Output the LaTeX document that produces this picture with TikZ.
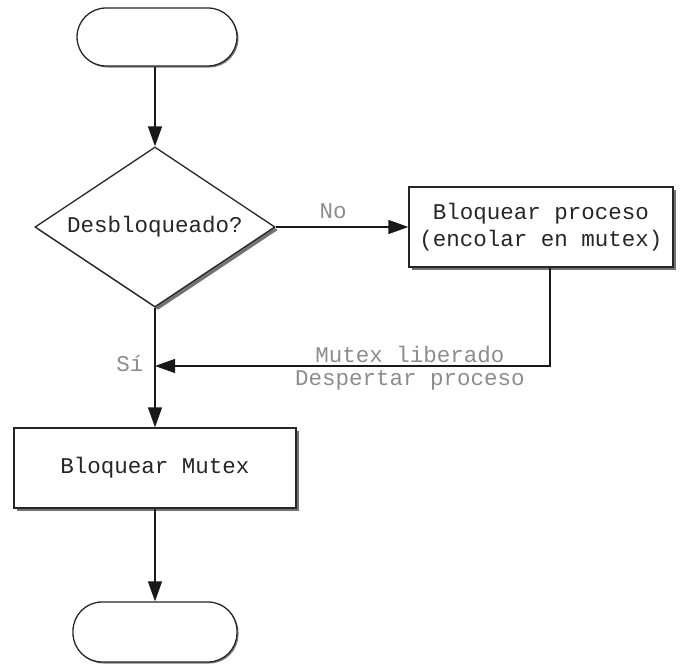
\documentclass[tikz,border=0pt]{standalone}
\usepackage{fontspec}
\newfontfamily\mono{Liberation Mono}
\usetikzlibrary{arrows.meta,shapes.geometric,shadows}
\begin{document}
\begin{tikzpicture}[x=1pt,y=-1pt,
  every node/.style={font=\mono\fontsize{22.5}{27}\selectfont},
  shade3/.style={drop shadow={shadow xshift=3pt,shadow yshift=-3pt,fill=black!55,opacity=1}},
  terminal/.style={draw=black!85,line width=1.3pt,fill=white,rectangle,rounded corners=29pt,
    minimum width=160pt,minimum height=58pt,inner sep=0pt,
    drop shadow={shadow xshift=1.5pt,shadow yshift=-1.5pt,fill=black!50,opacity=1}},
  procbox/.style={draw=black!85,line width=1.3pt,fill=white,rectangle,inner sep=0pt,
    text=black!85,align=center,shade3},
  decision/.style={draw=black!85,line width=1.3pt,fill=white,diamond,shape aspect=1.5,
    inner sep=0pt,minimum width=240pt,minimum height=160pt,text=black!85,shade3},
  flow/.style={draw=black!90,line width=1.3pt,-{Triangle[length=20pt,width=14pt]}},
  edgelabel/.style={text=black!45}]

\useasboundingbox (0,0) rectangle (683,664);

% shapes
\node[terminal] (start) at (157,37) {};
\node[decision] (dec) at (155,227) {Desbloqueado?};
\node[procbox,minimum width=264pt,minimum height=80pt] (blk) at (541,227)
  {Bloquear proceso\\(encolar en mutex)};
\node[procbox,minimum width=282pt,minimum height=80pt] (mtx) at (155,468) {Bloquear Mutex};
\node[terminal,minimum width=164pt,minimum height=60pt] (stop) at (155,632) {};
\coordinate (join) at (155,366);

% connectors
\draw[flow] (start.south -| dec.north) -- (dec.north);
\draw[flow] (dec.east) -- (blk.west);
\draw[flow] ([xshift=9pt]blk.south) |- (join);
\draw[flow] (dec.south) -- (mtx.north);
\draw[flow] (mtx.south) -- (stop.north);

% labels
\node[edgelabel] (lno) at (333,211) {No};
\node[edgelabel] (lsi) at (130,364) {Sí};
\node[edgelabel] (lfree) at (410,354) {Mutex liberado};
\node[edgelabel] (lwake) at (410,380) {Despertar proceso};
\end{tikzpicture}
\end{document}
